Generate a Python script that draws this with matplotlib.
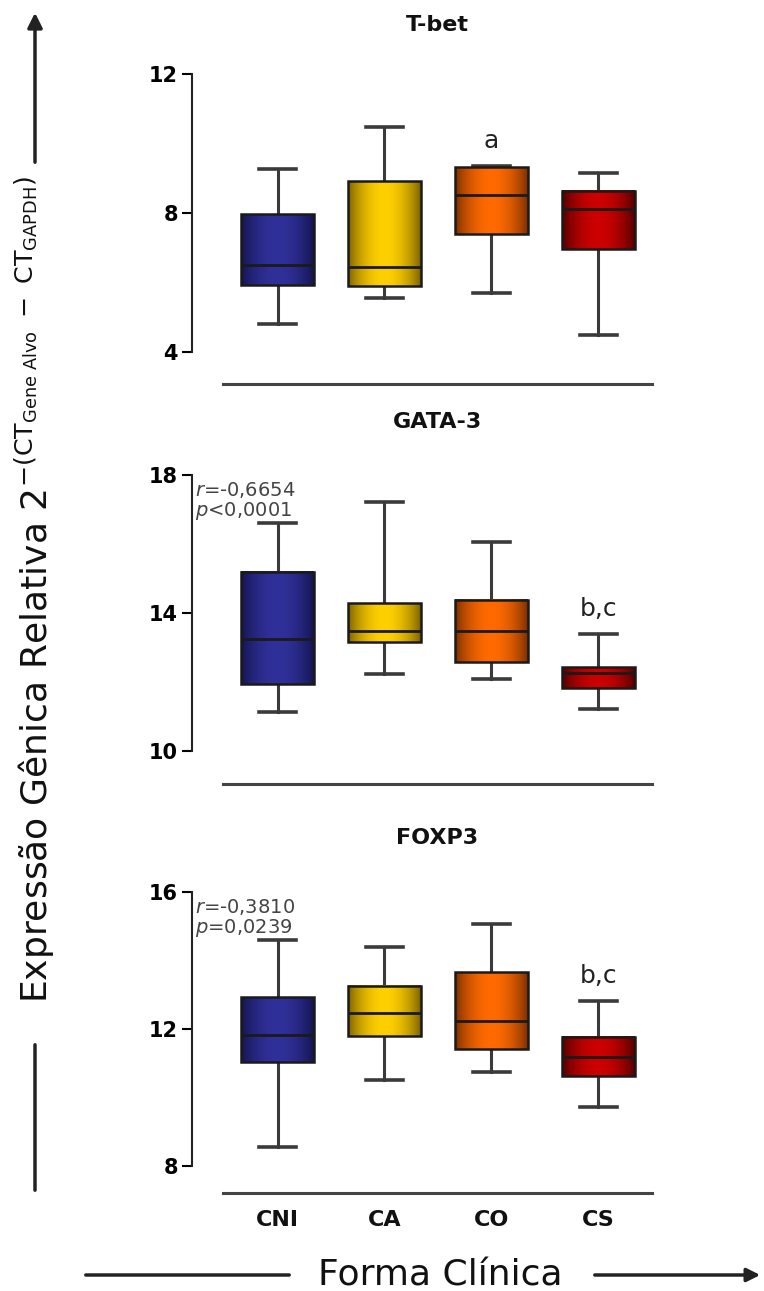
import numpy as np
import matplotlib
matplotlib.use('Agg')
import matplotlib.pyplot as plt
from matplotlib.patches import FancyArrowPatch
from matplotlib.colors import to_rgb

plt.rcParams['font.family'] = ['DejaVu Sans']
plt.rcParams['mathtext.default'] = 'regular'

W, H = 764, 1291

groups = ['CNI', 'CA', 'CO', 'CS']
genes = ['T-bet', 'GATA-3', 'FOXP3']

# whislo, q1, med, q3, whishi per group
tbet = [[4.81, 5.94, 6.49, 7.97, 9.28],
        [5.55, 5.90, 6.45, 8.92, 10.47],
        [5.70, 7.40, 8.52, 9.32, 9.35],
        [4.49, 6.96, 8.11, 8.63, 9.15]]
gata3 = [[11.13, 11.94, 13.25, 15.19, 16.61],
         [12.23, 13.16, 13.48, 14.29, 17.22],
         [12.09, 12.58, 13.48, 14.38, 16.06],
         [11.22, 11.83, 12.26, 12.43, 13.39]]
foxp3 = [[8.55, 11.04, 11.82, 12.93, 14.60],
         [10.51, 11.80, 12.47, 13.26, 14.39],
         [10.74, 11.42, 12.23, 13.66, 15.07],
         [9.72, 10.63, 11.18, 11.77, 12.82]]

yticks = [[4, 8, 12], [10, 14, 18], [8, 12, 16]]
stats_txt = [None, ('-0,6654', '<0,0001'), ('-0,3810', '=0,0239')]
letters = [{2: 'a'}, {3: 'b,c'}, {3: 'b,c'}]

# (dark edge, bright centre) for the gradient fill
box_colors = [('#14144e', '#30309a'),
              ('#7a6000', '#ffd000'),
              ('#7a2e00', '#ff6a00'),
              ('#520000', '#cc0000')]


def fx(px):
    return px / W


def fy(py):
    return 1 - py / H


def gradient(dark, bright, n=64):
    t = np.linspace(-1, 1, n)
    w = np.cos(t * np.pi / 2) ** 0.8
    d, b = np.array(to_rgb(dark)), np.array(to_rgb(bright))
    return (d[None, :] * (1 - w[:, None]) + b[None, :] * w[:, None])[None, :, :]


fig = plt.figure(figsize=(W / 100, H / 100), dpi=100)

# axes placement in pixels: (y of top tick, y of bottom tick, bottom line offset px)
panels = [(74, 352, 32), (475, 751, 33), (892, 1166, 27)]
title_y = [25, 422, 838]
data = [tbet, gata3, foxp3]

for k, (gene, vals) in enumerate(zip(genes, data)):
    ytop, ybot, off = panels[k]
    ax = fig.add_axes([fx(192), fy(ybot), fx(657) - fx(192), fy(ytop) - fy(ybot)])
    pos = np.arange(1, len(groups) + 1)
    bstats = [dict(whislo=v[0], q1=v[1], med=v[2], q3=v[3], whishi=v[4], label=g)
              for v, g in zip(vals, groups)]
    ax.bxp(bstats, positions=pos, widths=0.68, patch_artist=True,
           showfliers=False, capwidths=0.35,
           boxprops=dict(facecolor='none', edgecolor='#1a1a1a', linewidth=1.8, zorder=4),
           medianprops=dict(color='#1a1a1a', linewidth=2.0, zorder=5),
           whiskerprops=dict(color='#3a3a3a', linewidth=2.2),
           capprops=dict(color='#3a3a3a', linewidth=2.6))
    for i, v in enumerate(vals):
        dark, bright = box_colors[i]
        ax.imshow(gradient(dark, bright), extent=[pos[i] - 0.34, pos[i] + 0.34, v[1], v[3]],
                  aspect='auto', zorder=3, interpolation='bilinear')

    ax.set_xlim(0.2, 4.55)
    ax.set_ylim(yticks[k][0], yticks[k][-1])
    ax.set_yticks(yticks[k])
    ax.tick_params(axis='y', length=7, width=1.5, labelsize=15, pad=3)
    for lab in ax.get_yticklabels():
        lab.set_fontweight('bold')
    ax.spines['top'].set_visible(False)
    ax.spines['right'].set_visible(False)
    ax.spines['left'].set_linewidth(1.5)
    ax.spines['left'].set_color('#222222')
    ax.spines['bottom'].set_position(('outward', off * 0.72))
    ax.spines['bottom'].set_bounds(0.49, 4.5)
    ax.spines['bottom'].set_linewidth(2.2)
    ax.spines['bottom'].set_color('#444444')
    ax.tick_params(axis='x', length=0, pad=12)
    if k < 2:
        ax.set_xticklabels([])
    else:
        ax.set_xticklabels(groups, fontsize=16, fontweight='bold', color='#111111')
    ax.patch.set_alpha(0)

    fig.text(fx(437), fy(title_y[k]), gene, ha='center', va='center',
             fontsize=16, fontweight='bold', color='#111111')

    for gi, txt in letters[k].items():
        ax.text(pos[gi], vals[gi][4] + 0.38, txt, ha='center', va='bottom',
                fontsize=18, color='#222222')

    if stats_txt[k] is not None:
        r, p = stats_txt[k]
        ax.text(0.23, yticks[k][-1] - 0.15, r'$\mathit{r}$=' + r, ha='left', va='top',
                fontsize=14, color='#444444')
        ax.text(0.23, yticks[k][-1] - 0.72, r'$\mathit{p}$' + p, ha='left', va='top',
                fontsize=14, color='#444444')

# y label with arrows
fig.text(fx(35), fy(590),
         r'Expressão Gênica Relativa $2^{-(CT_{Gene\ Alvo}\ -\ CT_{GAPDH})}$',
         rotation=90, ha='center', va='center', fontsize=26, color='#111111')
fig.add_artist(FancyArrowPatch((fx(35), fy(165)), (fx(35), fy(10)),
                               transform=fig.transFigure, arrowstyle='-|>',
                               mutation_scale=22, lw=2.5, color='#222222'))
fig.add_artist(FancyArrowPatch((fx(35), fy(1042)), (fx(35), fy(1193)),
                               transform=fig.transFigure, arrowstyle='-',
                               lw=2.5, color='#222222'))

# x label with arrows
fig.text(fx(440), fy(1275), 'Forma Clínica', ha='center', va='center',
         fontsize=26, color='#111111')
fig.add_artist(FancyArrowPatch((fx(83), fy(1275)), (fx(292), fy(1275)),
                               transform=fig.transFigure, arrowstyle='-',
                               lw=2.5, color='#222222'))
fig.add_artist(FancyArrowPatch((fx(592), fy(1275)), (fx(763), fy(1275)),
                               transform=fig.transFigure, arrowstyle='-|>',
                               mutation_scale=20, lw=2.5, color='#222222'))

fig.savefig('out.png', dpi=100)
